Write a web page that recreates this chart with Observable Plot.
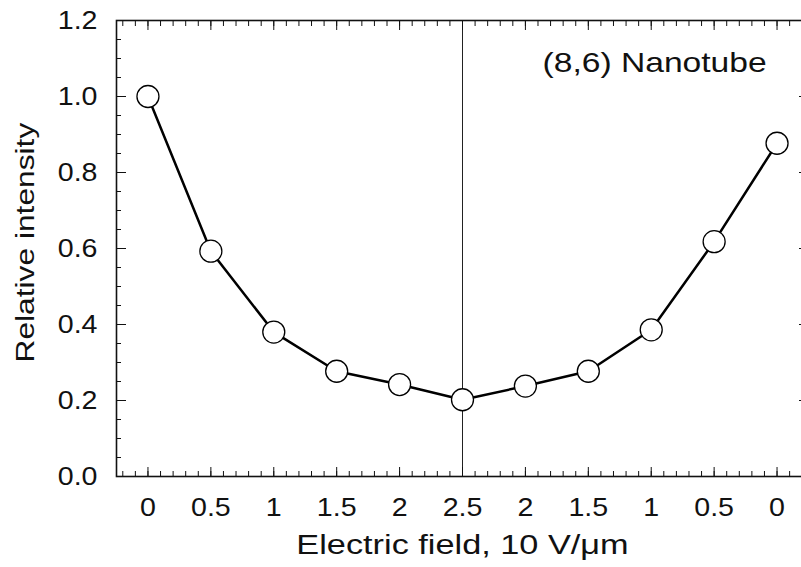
<!DOCTYPE html>
<html><head><meta charset="utf-8">
<script src="https://cdn.jsdelivr.net/npm/d3@7"></script>
<script src="https://cdn.jsdelivr.net/npm/@observablehq/plot@0.6"></script>
<style>html,body{margin:0;padding:0;overflow:hidden;background:#fff}</style>
</head><body><div id="chart"></div>
<script>
// Data: relative intensity along a field sweep 0 -> 2.5 -> 0 (10 V/um)
const sweepPos    = [0, 0.5, 1, 1.5, 2, 2.5, 3, 3.5, 4, 4.5, 5];
const fieldLabels = ["0","0.5","1","1.5","2","2.5","2","1.5","1","0.5","0"];
const intensity   = [1.0, 0.593, 0.380, 0.277, 0.242, 0.202, 0.238, 0.277, 0.386, 0.618, 0.877];
const yTicks      = [0, 0.2, 0.4, 0.6, 0.8, 1.0, 1.2];
const yTickLabels = ["0.0","0.2","0.4","0.6","0.8","1.0","1.2"];
const xMinorTicks = d3.range(-2, 53).map(i => i / 10);
const yMinorTicks = d3.range(0, 25).map(i => i * 0.05);
const turnPoint   = 2.5;
const annotation  = {x: 3.136, y: 1.088, text: "(8,6) Nanotube"};
const xTitle = "Electric field, 10 V/\u03bcm";
const yTitle = "Relative intensity";

const data = sweepPos.map((p, i) => ({p, v: intensity[i], label: fieldLabels[i]}));
const ink = "#111";
const font = "'Liberation Sans', Arial, Helvetica, sans-serif";
const tickFont = 26;

const chart = Plot.plot({
  width: 801, height: 567,
  marginLeft: 116, marginRight: -7, marginTop: 20, marginBottom: 91,
  x: {domain: [-0.25, 5.25]},
  y: {domain: [0, 1.2]},
  style: {fontFamily: font, fontSize: "26px", color: ink, background: "#fff"},
  marks: [
    Plot.ruleX([turnPoint], {stroke: "#222", strokeWidth: 1}),
    // minor ticks (inward)
    Plot.axisX(xMinorTicks, {anchor: "bottom", tickSize: -5, tickFormat: () => "", label: null, stroke: ink}),
    Plot.axisX(xMinorTicks, {anchor: "top", tickSize: -5, tickFormat: () => "", label: null, stroke: ink}),
    Plot.axisY(yMinorTicks, {anchor: "left", tickSize: -5, tickFormat: () => "", label: null, stroke: ink}),
    Plot.axisY(yMinorTicks, {anchor: "right", tickSize: -5, tickFormat: () => "", label: null, stroke: ink}),
    // major ticks + labels
    Plot.axisX(sweepPos, {anchor: "bottom", tickSize: -9, tickPadding: 30, fontSize: tickFont,
      tickFormat: d => fieldLabels[sweepPos.indexOf(d)], label: null, stroke: ink, fill: ink}),
    Plot.axisX(sweepPos, {anchor: "top", tickSize: -9, tickFormat: () => "", label: null, stroke: ink}),
    Plot.axisY(yTicks, {anchor: "left", tickSize: -10, tickPadding: 29, fontSize: tickFont,
      tickFormat: d => yTickLabels[yTicks.indexOf(d)], label: null, stroke: ink, fill: ink}),
    Plot.axisY(yTicks, {anchor: "right", tickSize: -10, tickFormat: () => "", label: null, stroke: ink}),
    Plot.frame({stroke: ink, strokeWidth: 1.6}),
    Plot.line(data, {x: "p", y: "v", stroke: "#000", strokeWidth: 2.5}),
    Plot.dot(data, {x: "p", y: "v", r: 11, fill: "#fff", stroke: "#000", strokeWidth: 1.3}),
    Plot.text([annotation], {x: "x", y: "y", text: "text", textAnchor: "start", fontSize: 28, fill: ink, className: "stretch-ann"}),
    Plot.text([xTitle], {frameAnchor: "bottom", dy: 77, fontSize: 27, fill: ink, className: "stretch-xt"}),
    Plot.text([yTitle], {frameAnchor: "left", rotate: -90, textAnchor: "start", dx: -91, dy: 114, fontSize: 26, fill: ink, className: "stretch-yt"})
  ]
});
document.getElementById("chart").appendChild(chart);

// widen glyphs horizontally to match the reference's broad sans lettering
function stretch(sel, k) {
  d3.select(chart).selectAll(sel).each(function () {
    const t = this.textContent;
    if (!t) return;
    const w = this.getComputedTextLength();
    this.setAttribute("textLength", w * k);
    this.setAttribute("lengthAdjust", "spacingAndGlyphs");
  });
}
stretch("g[aria-label='x-axis tick label'] text, g[aria-label='y-axis tick label'] text", 1.1);
stretch(".stretch-ann text", 1.2);
stretch(".stretch-xt text", 1.27);
stretch(".stretch-yt text", 1.22);
</script>
</body></html>
